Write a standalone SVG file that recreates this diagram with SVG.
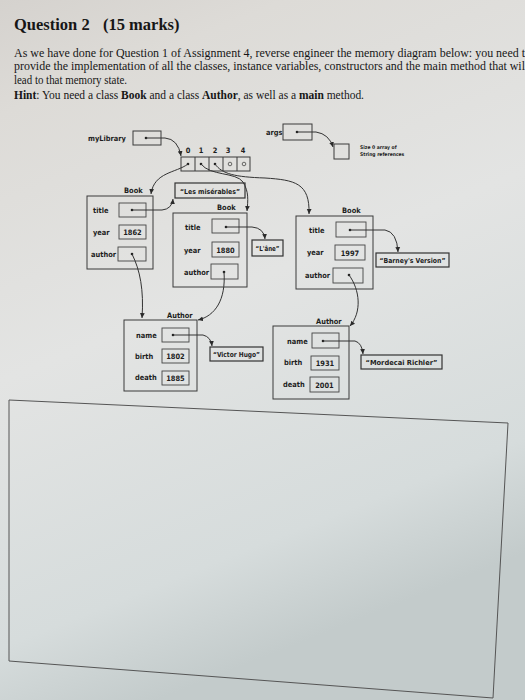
<svg xmlns="http://www.w3.org/2000/svg" width="525" height="700" viewBox="0 0 525 700">
<defs>
<linearGradient id="bg" x1="0" y1="0" x2="0.3" y2="1">
<stop offset="0" stop-color="#d5d2ce"/>
<stop offset="0.15" stop-color="#dddbd7"/>
<stop offset="0.5" stop-color="#e3e4e3"/>
<stop offset="0.85" stop-color="#d6dcdc"/>
<stop offset="1" stop-color="#c3cbcb"/>
</linearGradient>
<marker id="arr" markerUnits="userSpaceOnUse" markerWidth="6" markerHeight="6" refX="5" refY="3" orient="auto">
<path d="M0,0.6 L5,3 L0,5.4 Z" fill="#2a2a2a"/>
</marker>
<style>
.hd{font-family:"Liberation Serif","Times New Roman",serif;fill:#161616}
.p{font-size:11.5px}
.box{fill:none;stroke:#3a3a3a;stroke-width:1}
.fld{fill:none;stroke:#444;stroke-width:0.9}
.str{fill:none;stroke:#333;stroke-width:1.2}
.lbl{font-family:"DejaVu Sans Condensed","DejaVu Sans",sans-serif;font-weight:bold;font-size:7.4px;fill:#1e1e1e}
.num{font-family:"DejaVu Sans Condensed","DejaVu Sans",sans-serif;font-weight:bold;font-size:7.4px;fill:#1e1e1e;text-anchor:middle}
.st{font-family:"DejaVu Sans Condensed","DejaVu Sans",sans-serif;font-weight:bold;font-size:7px;fill:#1e1e1e;text-anchor:middle}
.sm{font-family:"DejaVu Sans Condensed","DejaVu Sans",sans-serif;font-weight:bold;font-size:5px;fill:#222}
.dot{fill:#222}
.conn{fill:none;stroke:#333;stroke-width:1;marker-end:url(#arr)}
</style>
</defs>
<rect width="525" height="700" fill="url(#bg)"/>

<g id="header">
<text class="hd" x="14" y="30" font-size="16.5" font-weight="bold">Question 2<tspan x="103">(15 marks)</tspan></text>
<text class="hd p" x="14" y="57" textLength="511" lengthAdjust="spacingAndGlyphs">As we have done for Question 1 of Assignment 4, reverse engineer the memory diagram below: you need t</text>
<text class="hd p" x="14" y="70" textLength="511" lengthAdjust="spacingAndGlyphs">provide the implementation of all the classes, instance variables, constructors and the main method that wil</text>
<text class="hd p" x="14" y="84" textLength="113" lengthAdjust="spacingAndGlyphs">lead to that memory state.</text>
<text class="hd p" x="14" y="99" textLength="350" lengthAdjust="spacingAndGlyphs"><tspan font-weight="bold">Hint</tspan>: You need a class <tspan font-weight="bold">Book</tspan> and a class <tspan font-weight="bold">Author</tspan>, as well as a <tspan font-weight="bold">main</tspan> method.</text>
</g>

<g id="myLibrary">
<text class="lbl" x="88" y="141">myLibrary</text>
<rect class="box" x="133" y="131" width="28" height="14"/>
<circle class="dot" cx="146" cy="138" r="1.3"/>
</g>

<g id="array">
<text class="num" x="188" y="153">0</text>
<text class="num" x="201" y="153">1</text>
<text class="num" x="215" y="153">2</text>
<text class="num" x="228" y="153">3</text>
<text class="num" x="243" y="153">4</text>
<rect class="box" x="181" y="157" width="69" height="14"/>
<line class="box" x1="195" y1="157" x2="195" y2="171"/>
<line class="box" x1="209" y1="157" x2="209" y2="171"/>
<line class="box" x1="223" y1="157" x2="223" y2="171"/>
<line class="box" x1="237" y1="157" x2="237" y2="171"/>
<circle class="dot" cx="188" cy="164" r="1.3"/>
<circle class="dot" cx="201" cy="164" r="1.3"/>
<circle class="dot" cx="215" cy="164" r="1.3"/>
<circle cx="230" cy="164" r="1.8" fill="none" stroke="#333" stroke-width="0.7"/>
<circle cx="244" cy="164" r="1.8" fill="none" stroke="#333" stroke-width="0.7"/>
</g>

<g id="args">
<text class="lbl" x="266" y="135">args</text>
<rect class="box" x="283" y="124" width="29" height="16"/>
<circle class="dot" cx="297" cy="132" r="1.3"/>
</g>

<g id="emptyArray">
<rect class="box" x="334" y="144" width="15" height="15"/>
<text class="sm" x="360" y="149">Size 0 array of</text>
<text class="sm" x="360" y="156">String references</text>
</g>

<g id="book1">
<text class="lbl" x="124" y="193">Book</text>
<rect class="box" x="87" y="196" width="66" height="73"/>
<text class="lbl" x="93" y="213">title</text>
<rect class="fld" x="119" y="203" width="27" height="14"/>
<circle class="dot" cx="132" cy="210" r="1.3"/>
<text class="lbl" x="93" y="235">year</text>
<rect class="fld" x="119" y="225" width="27" height="14"/>
<text class="num" x="132.5" y="235">1862</text>
<text class="lbl" x="91" y="257">author</text>
<rect class="fld" x="118" y="247" width="28" height="14"/>
<circle class="dot" cx="132" cy="254" r="1.3"/>
</g>

<g id="strLes">
<rect class="str" x="175" y="183" width="70" height="15"/>
<text class="st" x="210" y="193.5" textLength="60" lengthAdjust="spacingAndGlyphs">“Les misérables”</text>
</g>

<g id="book2">
<text class="lbl" x="217" y="210">Book</text>
<rect class="box" x="173" y="213" width="74" height="74"/>
<text class="lbl" x="185" y="230">title</text>
<rect class="fld" x="212" y="219" width="27" height="14"/>
<circle class="dot" cx="226" cy="227" r="1.3"/>
<text class="lbl" x="184" y="253">year</text>
<rect class="fld" x="212" y="242" width="27" height="15"/>
<text class="num" x="225.5" y="252.5">1880</text>
<text class="lbl" x="184" y="275">author</text>
<rect class="fld" x="211" y="264" width="27" height="15"/>
<circle class="dot" cx="224" cy="272" r="1.3"/>
</g>

<g id="strLane">
<rect class="str" x="252" y="240" width="31" height="16"/>
<text class="st" x="267.5" y="250.5" textLength="24" lengthAdjust="spacingAndGlyphs">“L'âne”</text>
</g>

<g id="book3">
<text class="lbl" x="342" y="213">Book</text>
<rect class="box" x="296" y="216" width="77" height="73"/>
<text class="lbl" x="309" y="233">title</text>
<rect class="fld" x="336" y="222" width="30" height="15"/>
<circle class="dot" cx="350" cy="230" r="1.3"/>
<text class="lbl" x="307" y="255">year</text>
<rect class="fld" x="335" y="245" width="30" height="15"/>
<text class="num" x="350" y="255.5">1997</text>
<text class="lbl" x="305" y="278">author</text>
<rect class="fld" x="333" y="268" width="30" height="15"/>
<circle class="dot" cx="349" cy="275" r="1.3"/>
</g>

<g id="strBarney">
<rect class="str" x="376" y="253" width="73" height="14"/>
<text class="st" x="412.5" y="263" textLength="66" lengthAdjust="spacingAndGlyphs">“Barney's Version”</text>
</g>

<g id="author1">
<text class="lbl" x="167" y="318">Author</text>
<rect class="box" x="124" y="320" width="73" height="71"/>
<text class="lbl" x="136" y="338">name</text>
<rect class="fld" x="162" y="328" width="27" height="14"/>
<circle class="dot" cx="173" cy="335" r="1.3"/>
<text class="lbl" x="135" y="359">birth</text>
<rect class="fld" x="162" y="349" width="27" height="14"/>
<text class="num" x="175.5" y="359">1802</text>
<text class="lbl" x="135" y="380">death</text>
<rect class="fld" x="162" y="371" width="27" height="14"/>
<text class="num" x="175.5" y="381">1885</text>
</g>

<g id="strHugo">
<rect class="str" x="210" y="347" width="53" height="14"/>
<text class="st" x="236.5" y="357" textLength="47" lengthAdjust="spacingAndGlyphs">“Victor Hugo”</text>
</g>

<g id="author2">
<text class="lbl" x="316" y="324">Author</text>
<rect class="box" x="273" y="326" width="76" height="73"/>
<text class="lbl" x="287" y="344">name</text>
<rect class="fld" x="312" y="333" width="27" height="15"/>
<circle class="dot" cx="323" cy="341" r="1.3"/>
<text class="lbl" x="284" y="365">birth</text>
<rect class="fld" x="311" y="356" width="28" height="14"/>
<text class="num" x="325" y="366">1931</text>
<text class="lbl" x="283" y="387">death</text>
<rect class="fld" x="310" y="377" width="29" height="15"/>
<text class="num" x="324.5" y="387.5">2001</text>
</g>

<g id="strRichler">
<rect class="str" x="361" y="355" width="81" height="14"/>
<text class="st" x="401.5" y="365" textLength="72" lengthAdjust="spacingAndGlyphs">“Mordecai Richler”</text>
</g>

<g id="connectors">
<path class="conn" d="M146,138 L165,138 Q178,139 181,156"/>
<path class="conn" d="M297,132 L316,132 Q329,134 333,147"/>
<path class="conn" d="M188,164 C176,173 154,172 151,194"/>
<path class="conn" d="M201,164 C210,176 236,172 243,182 C249,192 248,200 247,211"/>
<path class="conn" d="M215,164 C222,174 235,177 265,178 C295,180 310,183 309,214"/>
<path class="conn" d="M132,210 L162,210 Q172,209 173,199"/>
<path class="conn" d="M226,227 L252,227 Q264,228 265,239"/>
<path class="conn" d="M350,230 L385,230 Q397,232 398,252"/>
<path class="conn" d="M132,254 C140,270 144,290 142,318"/>
<path class="conn" d="M224,272 C226,300 215,316 198,320"/>
<path class="conn" d="M349,275 C360,290 362,312 350,326"/>
<path class="conn" d="M173,335 L203,335 Q211,337 212,346"/>
<path class="conn" d="M323,341 L355,341 Q362,343 363,354"/>
</g>

<g id="answerBox">
<polygon points="9,400 508,423 493,698 9,661" fill="none" stroke="#555" stroke-width="1"/>
</g>
</svg>
